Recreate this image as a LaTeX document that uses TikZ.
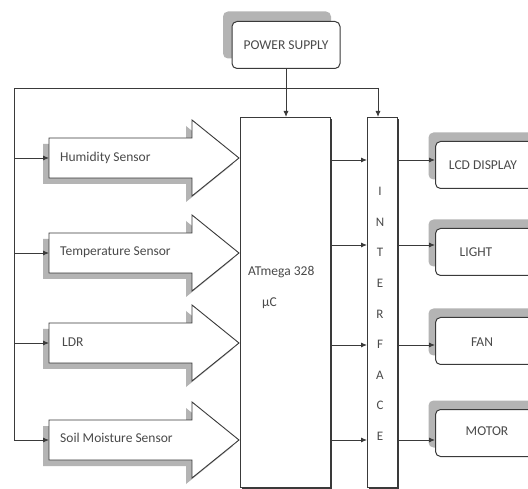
\documentclass[tikz,border=0pt]{standalone}
\usepackage{fontspec}
\setmainfont{Carlito}
\usetikzlibrary{arrows.meta,calc,shadows}
\definecolor{linec}{HTML}{3A3A3A}
\definecolor{shadowc}{HTML}{B4B4B4}
\definecolor{textc}{HTML}{4A4A4A}
\begin{document}
\begin{tikzpicture}[x=1pt,y=-1pt,
  conn/.style={draw=linec, line width=0.9pt, -{Latex[length=6pt,width=5pt]}},
  plain/.style={draw=linec, line width=0.9pt},
  lbl/.style={font=\fontsize{13.5}{16}\selectfont, text=textc, inner sep=0pt},
  outbox/.style={draw=linec, line width=1pt, fill=white, rounded corners=5pt,
    minimum width=105pt, minimum height=47pt, anchor=west,
    general shadow={shadow xshift=-7pt, shadow yshift=9pt, fill=shadowc, rounded corners=5pt}},
  tallbox/.style={draw=linec, line width=1pt, fill=white, minimum height=370pt, anchor=north west,
    general shadow={shadow xshift=1.4pt, shadow yshift=-1.4pt, fill=linec}},
  sensorarrow/.pic={
    \fill[shadowc] (-6,-14) -- (137,-14) -- (137,-32) -- (184,6) -- (137,44) -- (137,26) -- (-6,26) -- cycle;
    \filldraw[fill=white, draw=linec, line width=0.9pt] (0,-20) -- (143,-20) -- (143,-38) -- (190,0) -- (143,38) -- (143,20) -- (0,20) -- cycle;
  }]
\useasboundingbox (0,0) rectangle (528,489);
\begin{scope}
\clip (0,0) rectangle (528,489);
\fill[white] (0,0) rectangle (528,489);

% power supply
\node[draw=linec, line width=1pt, fill=white, rounded corners=5pt, minimum width=108pt, minimum height=47pt,
  general shadow={shadow xshift=-9pt, shadow yshift=10pt, fill=shadowc, rounded corners=5pt},
  lbl, inner sep=0pt] (ps) at (286,45) {POWER SUPPLY};

% sensor arrows
\pic at (49,158) {sensorarrow};
\pic at (49,253) {sensorarrow};
\pic at (49,343) {sensorarrow};
\pic at (49,440) {sensorarrow};
\coordinate (s1) at (49,158);
\coordinate (s2) at (49,253);
\coordinate (s3) at (49,343);
\coordinate (s4) at (49,440);
\node[lbl, anchor=west] (s1t) at (60,158) {Humidity Sensor};
\node[lbl, anchor=west] (s2t) at (60,252) {Temperature Sensor};
\node[lbl, anchor=west] (s3t) at (62,342) {LDR};
\node[lbl, anchor=west] (s4t) at (60,438) {Soil Moisture Sensor};

% microcontroller and interface
\node[tallbox, minimum width=90pt] (mc) at (240,117) {};
\node[tallbox, minimum width=30pt] (ifc) at (367,117) {};
\node[lbl, anchor=west] (mct) at (248,272) {ATmega 328};
\node[lbl, anchor=west] (muc) at (262,303) {μC};
\node[lbl, align=center, font=\fontsize{13}{30.6}\selectfont] (ift) at (380,314) {I\\N\\T\\E\\R\\F\\A\\C\\E};

% outputs
\node[outbox] (lcd) at (435,165) {};
\node[outbox] (light) at (435,252) {};
\node[outbox] (fan) at (435,341) {};
\node[outbox] (motor) at (435,433) {};
\node[lbl] (lcdt) at (483,165) {LCD DISPLAY};
\node[lbl] (lightt) at (476,252) {LIGHT};
\node[lbl] (fant) at (482,342) {FAN};
\node[lbl] (motort) at (487,431) {MOTOR};

% supply lines
\coordinate (tl) at (14,88);
\coordinate (tr) at (378,88);
\coordinate (bl) at (14,440);
\draw[plain] (bl) -- (tl) -- (tr);
\draw[conn] (tr) -- (tr |- ifc.north);
\draw[conn] (ps) -- (ps |- mc.north);

% branches to sensors
\draw[conn] (s1 -| tl) -- (s1);
\draw[conn] (s2 -| tl) -- (s2);
\draw[conn] (s3 -| tl) -- (s3);
\draw[conn] (s4 -| tl) -- (s4);

% outputs rows
\coordinate (r1) at (0,160);
\coordinate (r2) at (0,245);
\coordinate (r3) at (0,345);
\coordinate (r4) at (0,440);
\draw[conn] (mc.east |- r1) -- (ifc.west |- r1);
\draw[conn] (mc.east |- r2) -- (ifc.west |- r2);
\draw[conn] (mc.east |- r3) -- (ifc.west |- r3);
\draw[conn] (mc.east |- r4) -- (ifc.west |- r4);
\draw[conn] (ifc.east |- r1) -- (lcd.west |- r1);
\draw[conn] (ifc.east |- r2) -- (light.west |- r2);
\draw[conn] (ifc.east |- r3) -- (fan.west |- r3);
\draw[conn] (ifc.east |- r4) -- (motor.west |- r4);
\end{scope}
\end{tikzpicture}
\end{document}
